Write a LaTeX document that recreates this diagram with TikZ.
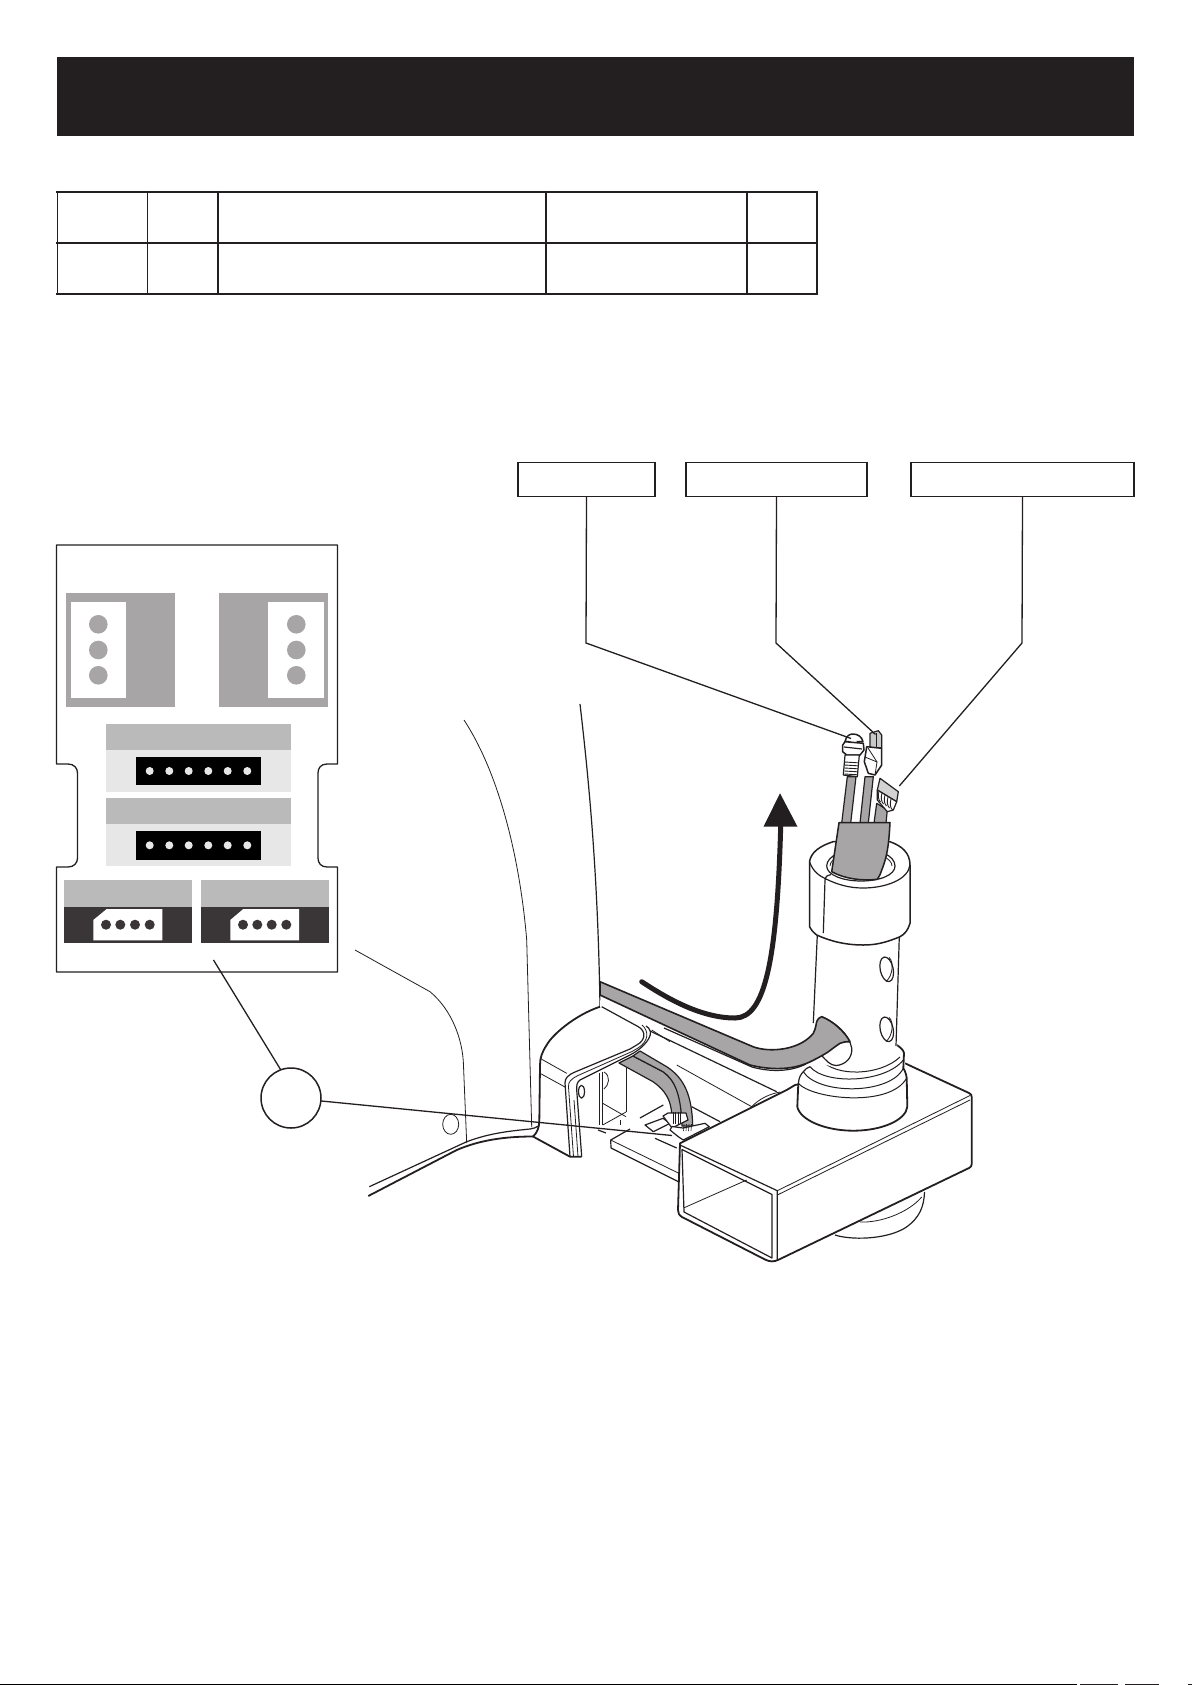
\documentclass[tikz,border=0pt]{standalone}
\definecolor{ink}{HTML}{231F20}
\definecolor{midgrey}{HTML}{A7A5A6}
\definecolor{bandgrey}{HTML}{BABABA}
\definecolor{palegrey}{HTML}{E7E7E7}
\definecolor{darkband}{HTML}{3A3637}
\tikzset{
  labelbox/.style={draw=ink,line width=1.8pt,fill=white,minimum height=34pt,inner sep=0pt,outer sep=0pt,anchor=north west},
  leader/.style={draw=ink,line width=1.3pt},
  thin line/.style={draw=ink,line width=0.8pt},
  mid line/.style={draw=ink,line width=1.2pt,line join=round},
  heavy line/.style={draw=ink,line width=1.8pt,line join=round},
  greyfill/.style={fill=midgrey,draw=ink,line width=1.2pt,line join=round},
  cell rule/.style={draw=ink,line width=1.2pt},
}
\begin{document}
\begin{tikzpicture}[x=1pt,y=-1pt]
\useasboundingbox (0,0) rectangle (1192,1685);
\fill[white] (0,0) rectangle (1192,1685);
% header
\fill[ink] (57,57) rectangle (1134,136);
% table
\foreach \yy in {192,243,293.7}{\draw[cell rule,line width=1.9pt] (56,\yy) -- (817.5,\yy);}
\foreach \xx in {57.3,147.3,546,747,817}{\draw[cell rule] (\xx,191) -- (\xx,295);}
\draw[cell rule,line width=2.2pt] (218,191) -- (218,295);
% label boxes
\node[labelbox,minimum width=137pt] (boxa) at (518,462.5) {};
\node[labelbox,minimum width=181pt] (boxb) at (686,462.5) {};
\node[labelbox,minimum width=223pt] (boxc) at (911,462.5) {};
% plate
\draw[ink,line width=1.3pt,fill=white,line join=round] (56.5,545) -- (337.5,545) -- (337.5,764) -- (327,764)
  .. controls (321,764) and (318,768) .. (318,773) -- (318,858)
  .. controls (318,863) and (321,867) .. (327,867) -- (337.5,867) -- (337.5,972) -- (56.5,972) -- (56.5,867) -- (68,867)
  .. controls (74,867) and (77.5,863) .. (77.5,858) -- (77.5,773)
  .. controls (77.5,768) and (74,764) .. (68,764) -- (56.5,764) -- cycle;
\fill[midgrey] (66,593.3) rectangle (175,706.7);
\fill[white] (70.7,602) rectangle (126,697.7);
\fill[midgrey] (219,593.3) rectangle (328,706.7);
\fill[white] (268.3,602) rectangle (324,697.7);
\foreach \yy in {624.3,650,675.3}{
  \fill[midgrey] (98.3,\yy) circle (9.3);
  \fill[midgrey] (296.3,\yy) circle (9.3);
}
\foreach \yt/\ym/\yb/\ba/\bb/\dy in {724/750/791.7/756.7/785.3/771, 798/824/866/831/859.7/845.3}{
  \fill[bandgrey] (106,\yt) rectangle (291,\ym);
  \fill[palegrey] (106,\ym) rectangle (291,\yb);
  \fill[black] (135.7,\ba) rectangle (261.3,\bb);
  \foreach \xx in {149.7,169.3,188.7,208.3,227.7,247.3}{\fill[palegrey] (\xx,\dy) circle (4);}
}
\fill[bandgrey] (64,880) rectangle (192,906.7);
\fill[darkband] (64,906.7) rectangle (192,942.7);
\fill[white] (106.7,909) -- (162.3,909) -- (162.3,940.3) -- (93.3,940.3) -- (93.3,920) -- cycle;
\foreach \xx in {106,120.3,135,149.7}{\fill[darkband] (\xx,924.7) circle (5);}
\fill[bandgrey] (200.7,880) rectangle (329,906.7);
\fill[darkband] (200.7,906.7) rectangle (329,942.7);
\fill[white] (243.3,909) -- (299,909) -- (299,940.3) -- (230.3,940.3) -- (230.3,920) -- cycle;
\foreach \xx in {243,257.3,271.7,286.3}{\fill[darkband] (\xx,924.7) circle (5);}

% machine body lines
\draw[thin line] (355,950) -- (430,991.7) .. controls (452,1010) and (463,1040) .. (463.5,1066) -- (466.7,1143);
\draw[thin line] (464,720) .. controls (500,775) and (520,860) .. (526.7,940) -- (531.7,1127);
\draw[mid line] (369.3,1186.7) -- (466.7,1141.7) .. controls (490,1133) and (510,1131) .. (530,1129) .. controls (537,1128) and (541,1125) .. (541.7,1121);
\draw[heavy line] (368.3,1196) -- (456.7,1150) .. controls (480,1140) and (505,1136.5) .. (533,1136.5);
\draw[thin line] (450.7,1124.3) ellipse (8 and 10);
\draw[mid line] (580,704) .. controls (590,790) and (598,880) .. (600,1007);

% rail behind bracket
\draw[mid line] (600,1007) -- (776.7,1091.7);
\draw[thin line] (651.7,1030) -- (670,1041.7);
\draw[thin line] (676.7,1065) -- (751.7,1106.7) .. controls (760,1098) and (770,1094) .. (780,1092);
\draw[thin line] (599.3,1073) -- (599.3,1125);
\draw[thin line] (602.7,1071.7) -- (602.7,1125);
\draw[thin line] (626,1068) -- (626,1111.7);
\draw[thin line] (602.7,1103.3) -- (626,1116.7);
\draw[thin line] (602.7,1125) -- (626,1112);
\draw[thin line] (620,1120) -- (620,1125);
\draw[thin line] (604,1072) .. controls (611,1076) and (609,1085) .. (604,1089);
\draw[mid line] (598,1130) -- (606,1133);
% circuit board
\fill[white] (610.7,1140) -- (668,1108) -- (720,1122) -- (680,1160) -- (678,1181.5) -- (611,1148) -- cycle;
\draw[mid line] (611,1148) -- (610.7,1140) -- (630,1129);
\draw[thin line] (610.7,1140) -- (678.3,1173);
\draw[mid line] (611,1148) -- (678,1181.5);
\draw[mid line] (640,1118) -- (663.3,1105);
\draw[mid line] (691.7,1106.7) -- (720,1121.7);
% ribbon cables
\draw[greyfill] (619,1063) -- (653,1081.7) .. controls (665,1090) and (671,1100) .. (671.7,1114) -- (681.7,1114) .. controls (681,1095) and (675,1080) .. (663,1071.7) -- (633,1056) -- cycle;
\draw[greyfill] (633,1056) -- (663,1071.7) .. controls (675,1080) and (681,1095) .. (682,1126) -- (692.7,1126) .. controls (692,1095) and (684,1078) .. (666.7,1066.7) -- (640,1051) -- cycle;
% connector blocks
\draw[mid line,fill=white] (645,1125) -- (663,1118.3) -- (670,1123.3) -- (653.3,1131.7) -- cycle;
\draw[mid line,fill=white] (663,1116) -- (668,1113) -- (686,1113) -- (688,1120) -- (672,1128) -- cycle;
\draw[mid line,fill=white] (670,1130) -- (672,1126.5) -- (683,1128) -- (705,1123.3) -- (709.3,1126.7) -- (683.3,1140) -- (678.3,1136.7) -- cycle;
\foreach \xx in {673,675.5,678,680.5}{\draw[ink,line width=0.6pt] (\xx,1112) -- (\xx,1124);}
\foreach \xx in {684,686.5,689,691.5}{\draw[ink,line width=0.6pt] (\xx,1124) -- (\xx-0.5,1131);}
\draw[mid line] (655,1138.3) -- (676.7,1148);

% bracket
\fill[white] (600,1006.7) .. controls (575,1015) and (552,1035) .. (546.7,1045) .. controls (542,1052) and (540,1058) .. (540,1065) -- (539.3,1121.7) .. controls (539,1128) and (537,1133) .. (533,1136.5) -- (570,1156.7) -- (581.7,1156.7) -- (576.7,1090) .. controls (576.5,1085) and (577,1082) .. (580,1080) -- (630,1055) .. controls (640,1050) and (651,1040) .. (650.5,1032) .. controls (650,1029) and (648,1027) .. (646,1026) -- (600,1000) -- cycle;
\draw[heavy line] (600,1006.7) .. controls (575,1015) and (552,1035) .. (546.7,1045) .. controls (542,1052) and (540,1058) .. (540,1065) -- (539.3,1121.7) .. controls (539,1128) and (537,1133) .. (533,1136.5) -- (570,1156.7) -- (581.7,1156.7);
\draw[mid line] (581.7,1156.7) -- (576.7,1090) .. controls (576.5,1085) and (577,1082) .. (580,1080) -- (630,1055) .. controls (640,1050) and (651,1040) .. (650.5,1032) .. controls (650,1029) and (648,1027) .. (646,1026);
\draw[mid line] (601.7,1006.7) -- (638.3,1026.7) .. controls (646,1031) and (646,1040) .. (636.7,1045) -- (630,1049) -- (575,1072) .. controls (568,1075) and (565,1078) .. (565,1083) -- (570,1156.7);
\draw[thin line] (642,1025) .. controls (649,1031) and (649,1041) .. (638,1048) -- (632,1051.5) -- (578,1075.5) .. controls (571,1079) and (568,1082) .. (568.5,1087) -- (573.5,1156.7);
\draw[thin line] (574,1100) -- (578,1156.7);
\draw[thin line] (540,1058.3) -- (566.7,1073.3);
\draw[thin line] (540,1073.3) -- (565,1087);
\draw[mid line,fill=white] (581.5,1091.7) ellipse (3 and 6.5);

% housing
\draw[heavy line,fill=white] (680,1143.3) -- (786.7,1090) -- (795,1085) -- (905,1063.3) -- (969,1093) .. controls (971,1094) and (971.7,1095) .. (971.7,1097) -- (971.7,1164) .. controls (971.7,1166) and (971,1167) .. (969,1168) -- (779,1259.5) .. controls (774,1262) and (770,1262) .. (765,1259.5) -- (682,1217) .. controls (679,1215) and (678,1213) .. (678,1210) -- cycle;
\draw[mid line] (680,1145) -- (777.3,1190.7) -- (777.3,1260);
\draw[mid line] (682,1149.5) -- (772,1194.5) -- (772,1258) -- (684,1212) -- cycle;
\draw[thin line] (683.5,1208) -- (746.7,1180);
\draw[thin line] (777.3,1195) -- (970,1100);
\draw[thin line] (777.3,1190.7) -- (970,1095.5);
% foot
\draw[mid line] (835,1235) .. controls (850,1240) and (885,1240) .. (905,1228) .. controls (920,1218) and (924,1206) .. (924.5,1192);
\draw[thin line] (860,1222) .. controls (880,1223) and (908,1213) .. (921.7,1197);

% collar
\fill[white] (797.3,1106.7) .. controls (800,1120) and (825,1130.7) .. (853.3,1130.7) .. controls (882,1130.7) and (906,1120) .. (907.3,1106.7) -- (906.7,1078) -- (904,1053) -- (896.7,1045) -- (815,1060) -- (803.3,1071.7) -- (798.3,1083.3) -- cycle;
\draw[heavy line] (798.3,1083.3) -- (797.3,1106.7) .. controls (800,1120) and (825,1130.7) .. (853.3,1130.7) .. controls (882,1130.7) and (906,1120) .. (907.3,1106.7) -- (906.7,1078) .. controls (906,1073) and (904.5,1070) .. (903.3,1068.3) -- (904,1053) .. controls (903.5,1050) and (900,1047) .. (896.7,1045);
\draw[mid line] (798.3,1083.3) .. controls (799,1077) and (801,1074) .. (803.3,1071.7) .. controls (805,1069) and (807,1068) .. (810,1066.7);
\draw[thin line,line width=1pt] (798.3,1083.3) .. controls (812,1099) and (890,1108) .. (906.7,1078);
\draw[thin line,line width=1pt] (803.3,1071.7) .. controls (818,1095) and (890,1095) .. (903.3,1068.3);
\draw[thin line,line width=1pt] (810,1066.7) .. controls (825,1085) and (885,1083) .. (903.3,1060);
\draw[thin line,line width=1pt] (821.7,1060) .. controls (835,1077) and (880,1076) .. (900,1057);

% pipe
\fill[white] (817.3,930) -- (813.3,1023) -- (815,1060) .. controls (840,1074) and (880,1072) .. (897,1048) -- (899.3,930) -- cycle;
\draw[mid line] (817.3,935) -- (813.3,1023);
\draw[mid line] (899.3,936) -- (896,1046);
\draw[mid line,rotate around={12:(886.7,969.3)}] (886.7,969.3) ellipse (6.5 and 12.5);
\draw[thin line] (889,957.5) .. controls (894,961) and (893,976) .. (886,981.5);
\draw[mid line,rotate around={12:(886.7,1029.3)}] (886.7,1029.3) ellipse (6.5 and 12.5);
\draw[thin line] (889,1017.5) .. controls (894,1021) and (893,1036) .. (886,1041.5);
% hole and strip
\draw[mid line,fill=white] (821.7,1016.7) .. controls (835,1022) and (849,1034) .. (851.7,1048) .. controls (852.7,1058) and (845,1065) .. (836,1065.5) .. controls (830,1065.5) and (826,1060) .. (822,1056) -- cycle;
\draw[greyfill,line width=1.6pt] (600,981.7) -- (753,1046.7) .. controls (770,1053) and (800,1050) .. (813.3,1033.3) .. controls (816,1028) and (816,1024) .. (816.7,1021.7) .. controls (818,1018.5) and (820,1017) .. (821.7,1016.7) .. controls (833,1021) and (845,1032) .. (850,1041.7) .. controls (845,1041.5) and (842,1042.5) .. (840,1043.3) .. controls (834,1047) and (829,1052) .. (823,1055) .. controls (816,1059) and (810,1062) .. (806.7,1063.3) .. controls (790,1070) and (770,1070) .. (750,1065) -- (600,995) -- cycle;
\draw[mid line] (664,1028) -- (752,1067) .. controls (770,1072) and (790,1072) .. (806,1064);

% sleeve
\draw[heavy line,fill=white,line width=1.5pt] (809.5,861.7) .. controls (811,852) and (820,846) .. (833,841.7) -- (890,841.7) .. controls (902,846) and (910,853) .. (910,865) -- (910,923.3) .. controls (908,930) and (905,934) .. (900,936.7) .. controls (885,943) and (875,945) .. (863.3,945) .. controls (845,945) and (830,941) .. (816.7,935) .. controls (813,932) and (811,930) .. (809.5,926.7) -- cycle;
\draw[mid line] (809.5,861.7) .. controls (813,872) and (820,876) .. (825,878.5) .. controls (838,885) and (850,888) .. (863,888) .. controls (885,888) and (908,880) .. (910,865);
\draw[mid line] (831,874.5) .. controls (828,875) and (825.5,876) .. (825,880) -- (823.3,933);
\draw[mid line,fill=white] (826.7,866) .. controls (826.7,856) and (843,849) .. (861,849) .. controls (880,849) and (895,856) .. (895,866) .. controls (895,875) and (880,881) .. (861,881) .. controls (843,881) and (826.7,875) .. (826.7,866) -- cycle;
\draw[thin line] (830,866) .. controls (830,858) and (845,852) .. (861,852) .. controls (877,852) and (892,858) .. (892,866);
% cables
\draw[greyfill] (847.3,776.7) -- (856,776.7) -- (850.7,823) -- (841.7,823) -- cycle;
\draw[greyfill] (865,776.7) -- (873.3,776.7) -- (868.3,823) -- (860,823) -- cycle;
\draw[greyfill] (876.7,803.3) -- (887.3,810) -- (886,823) -- (874,823) -- cycle;
% grey sleeve
\draw[greyfill,line width=1.5pt] (839,822.7) -- (890,822.7) .. controls (889,840) and (888,855) .. (881.7,870) .. controls (880.5,874) and (879,877) .. (877.3,879.3) .. controls (862,881) and (845,879) .. (831.7,871.7) -- cycle;
% connector 1
\draw[mid line,fill=white,line width=1.5pt] (845,741.7) .. controls (846,735.5) and (850,734) .. (853,734) .. controls (858,734) and (862,737) .. (863,741.7) -- cycle;
\fill[white] (850,738) -- (857,741) -- (855,743) -- (849,741) -- cycle;
\draw[mid line,fill=white,line width=1.5pt] (842.7,745) -- (845,741.7) -- (863.3,743.3) -- (864,750) -- (860,755) -- (846.7,755) -- (842.7,751.7) -- cycle;
\draw[mid line] (844,747) -- (862,749);
\draw[mid line,fill=white] (845,755) -- (859.3,755) -- (857.3,776.7) -- (843.3,775) -- cycle;
\foreach \yy in {762,765,768,771,774}{\draw[ink,line width=0.9pt] (844.5,\yy) -- (858,\yy+0.8);}
% connector 2
\draw[mid line,fill=midgrey!60] (870,733.3) -- (878.3,730.7) -- (881.7,735) -- (881.7,748) -- (870,748) -- cycle;
\draw[thin line] (876,733) -- (876,748);
\draw[mid line,fill=white,line width=1.5pt] (866.7,746.7) -- (881.7,748.3) -- (881.7,765) -- (875,775) -- (868.3,773.3) -- (864.3,761.7) -- cycle;
\draw[thin line] (865,757) -- (877,762) -- (875,775);
\draw[thin line] (868,748) -- (877,762);
% connector 3
\draw[mid line,fill=midgrey!50] (880,778.3) -- (898.3,791.7) -- (896.7,801.7) -- (877.3,790) -- cycle;
\draw[mid line,fill=white] (877.3,790) -- (896.7,801.7) -- (893.3,810) -- (887.3,811.7) -- (877.3,800) -- cycle;
\foreach \xx/\yy in {879/791,882/793,885/795,888/797,891/799}{\draw[ink,line width=0.9pt] (\xx,\yy) .. controls (\xx-1.5,\yy+5) and (\xx-0.5,\yy+9) .. (\xx+1.5,\yy+11);}
% arrow
\draw[ink,line width=5pt,line cap=round] (641.7,981.7) .. controls (665,997) and (700,1018) .. (735,1018) .. controls (765,1018) and (777,960) .. (780.7,826);
\fill[ink] (780,793.3) -- (797.5,826.7) -- (763.5,826.7) -- cycle;

% leaders and callout
\coordinate (cabA) at (851,738.5);
\coordinate (cabB) at (875.5,734.5);
\coordinate (cabC) at (899.3,786);
\coordinate (bendA) at (586,643);
\coordinate (bendB) at (776,643);
\coordinate (bendC) at (1022,643);
\coordinate (plateEnd) at (213.5,960);
\coordinate (target) at (672,1135.5);
\node[circle,draw=ink,line width=1.5pt,minimum size=60pt,inner sep=0pt,outer sep=0pt,fill=white] (call) at (291,1098) {};
\draw[leader] (boxa.south) -- (bendA) -- (cabA);
\draw[leader] (boxb.south) -- (bendB) -- (cabB);
\draw[leader] (boxc.south) -- (bendC) -- (cabC);
\draw[leader] (plateEnd) -- (call.110);
\draw[leader] (call) -- (target);
% bottom edge
\fill[black] (0,1683.8) rectangle (1077,1685);
\foreach \xx/\ww in {1080/38,1125/34,1188/4}{\fill[ink] (\xx,1684) rectangle +(\ww,1);}
\end{tikzpicture}
\end{document}
